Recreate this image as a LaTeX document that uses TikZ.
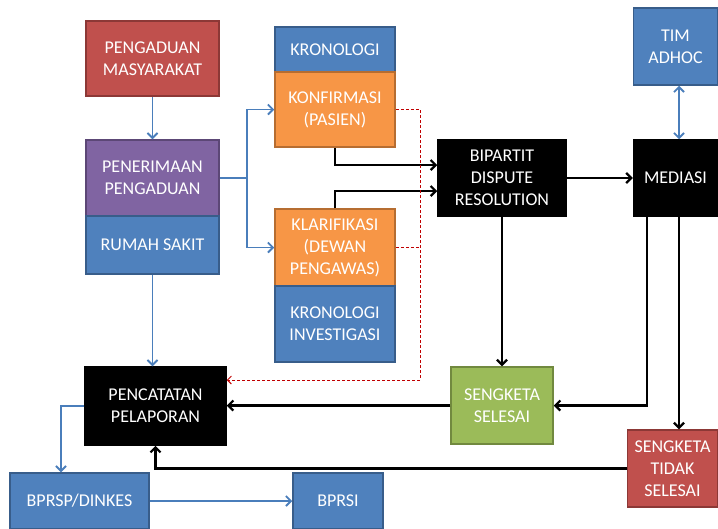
\documentclass[tikz,border=0pt]{standalone}
\usepackage{fontspec}
\setmainfont{Carlito}
\usetikzlibrary{arrows.meta,calc}
\definecolor{cred}{HTML}{C0504D}\definecolor{credb}{HTML}{8C3836}
\definecolor{cpur}{HTML}{8064A2}\definecolor{cpurb}{HTML}{5C4776}
\definecolor{cblu}{HTML}{4F81BD}\definecolor{cblub}{HTML}{385D8A}
\definecolor{cora}{HTML}{F79646}\definecolor{corab}{HTML}{B66D31}
\definecolor{cgrn}{HTML}{9BBB59}\definecolor{cgrnb}{HTML}{71893F}
\definecolor{cline}{HTML}{4A7EBB}\definecolor{cdash}{HTML}{C00000}
\tikzset{
  box/.style={rectangle, line width=1.5pt, text=white, align=center, inner sep=0pt,
    font=\fontsize{18}{22}\selectfont},
  redbox/.style={box, fill=cred, draw=credb},
  purbox/.style={box, fill=cpur, draw=cpurb},
  blubox/.style={box, fill=cblu, draw=cblub},
  orabox/.style={box, fill=cora, draw=corab},
  grnbox/.style={box, fill=cgrn, draw=cgrnb},
  blkbox/.style={box, fill=black, draw=black},
  sz/.style 2 args={minimum width=#1pt, minimum height=#2pt},
  bline/.style={draw=cline, line width=1.8pt, -{Straight Barb[length=5pt,width=10pt]}},
  kline/.style={draw=black, line width=2.2pt, -{Straight Barb[length=5pt,width=10pt]}},
  rline/.style={draw=cdash, line width=0.9pt, dash pattern=on 3pt off 2pt},
}
\begin{document}
\begin{tikzpicture}[x=1pt,y=-1pt]
\useasboundingbox[fill=white] (0,0) rectangle (718,528);
\node[redbox, sz={133}{75}] (pm) at (152.5,58.5) {PENGADUAN\\MASYARAKAT};
\node[purbox, sz={133}{76}] (pen) at (152.5,178) {PENERIMAAN\\PENGADUAN};
\node[blubox, sz={133}{58}] (rs) at (152.5,245) {RUMAH SAKIT};
\node[blubox, sz={120}{45}] (kron) at (335,49.5) {KRONOLOGI};
\node[orabox, sz={120}{75}] (konf) at (335,109.5) {KONFIRMASI\\(PASIEN)};
\node[orabox, sz={120}{77}] (klar) at (335,247.5) {KLARIFIKASI\\(DEWAN\\PENGAWAS)};
\node[blubox, sz={120}{76}] (kinv) at (335,324) {KRONOLOGI\\INVESTIGASI};
\node[blkbox, sz={128}{76}] (bip) at (502,178) {BIPARTIT\\DISPUTE\\RESOLUTION};
\node[blkbox, sz={84}{76}] (med) at (675.5,178) {MEDIASI};
\node[blubox, sz={84}{77}] (tim) at (675.5,46.5) {TIM\\ADHOC};
\node[grnbox, sz={102}{77}] (sel) at (502,405.5) {SENGKETA\\SELESAI};
\node[redbox, sz={90}{77}] (tid) at (672.5,468.5) {SENGKETA\\TIDAK\\SELESAI};
\node[blkbox, sz={141}{78}] (pc) at (155.5,406) {PENCATATAN\\PELAPORAN};
\node[blubox, sz={139}{56}] (bprsp) at (79.5,501) {BPRSP/DINKES};
\node[blubox, sz={90}{56}] (bprsi) at (338,501) {BPRSI};
% blue connectors
\draw[bline] (pm.south) -- (pen.north);
\coordinate (j) at (247,178);
\draw[draw=cline, line width=1.8pt] (pen.east) -- (j);
\draw[bline] (j) |- (konf.west);
\draw[bline] (j) |- (klar.west);
\draw[bline] (rs.south) -- (rs.south |- pc.north);
\draw[bline] (pc.west) -| ([xshift=-18.5pt]bprsp.north);
\draw[bline] (bprsp.east) -- (bprsi.west);
\draw[draw=cline, line width=1.8pt, {Straight Barb[length=5pt,width=10pt]}-{Straight Barb[length=5pt,width=10pt]}] ([xshift=3.5pt]tim.south) -- ([xshift=3.5pt]med.north);
% black connectors
\draw[kline] (konf.south) |- ([yshift=13pt]bip.west);
\draw[kline] (klar.north) |- ([yshift=-13pt]bip.west);
\draw[kline] (bip.east) -- (med.west);
\draw[kline] (bip.south) -- (sel.north);
\draw[kline] ([xshift=-28.5pt]med.south) |- (sel.east);
\draw[kline] ([xshift=3.5pt]med.south) -- ([xshift=3.5pt]med.south |- tid.north);
\draw[kline] (sel.west) -- (sel.west -| pc.east);
\draw[kline] (tid.west) -| (pc.south);
% red dashed
\coordinate (rd) at (420,380);
\draw[rline] (konf.east) -| (rd);
\draw[rline, -{Straight Barb[length=4pt,width=8pt]}] (rd) -- (rd -| pc.east);
\draw[rline] (klar.east) -- (klar.east -| rd);
\end{tikzpicture}
\end{document}
